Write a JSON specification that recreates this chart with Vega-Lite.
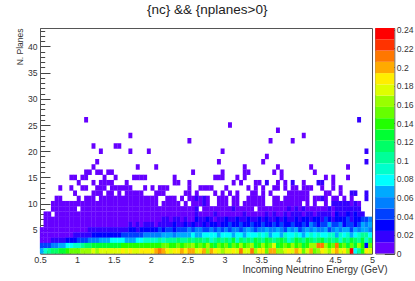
{"$schema":"https://vega.github.io/schema/vega-lite/v6.json","padding":{"left":14,"top":2,"right":0,"bottom":0},"bounds":"flush","spacing":3.3,
"title":{"text":"{nc} && {nplanes>0}","font":"Liberation Sans","fontSize":13.5,"fontWeight":"normal","color":"#222","anchor":"start","offset":9,"dx":132},
"config":{"view":{"stroke":"#555"},"axis":{"labelFont":"Liberation Sans","titleFont":"Liberation Sans","labelColor":"#333","titleColor":"#333","titleFontWeight":"normal","grid":false,"domainColor":"#555","tickColor":"#444","zindex":1,"labelFlush":false}},
"datasets":{"bands":[{"z0":0,"z1":0.0121,"z":0.006},{"z0":0.0121,"z1":0.0242,"z":0.018},{"z0":0.0242,"z1":0.0363,"z":0.03},{"z0":0.0363,"z1":0.0484,"z":0.042},{"z0":0.0484,"z1":0.0605,"z":0.054},{"z0":0.0605,"z1":0.0726,"z":0.067},{"z0":0.0726,"z1":0.0847,"z":0.079},{"z0":0.0847,"z1":0.0968,"z":0.091},{"z0":0.0968,"z1":0.1089,"z":0.103},{"z0":0.1089,"z1":0.121,"z":0.115},{"z0":0.121,"z1":0.1331,"z":0.127},{"z0":0.1331,"z1":0.1452,"z":0.139},{"z0":0.1452,"z1":0.1573,"z":0.151},{"z0":0.1573,"z1":0.1694,"z":0.163},{"z0":0.1694,"z1":0.1815,"z":0.175},{"z0":0.1815,"z1":0.1936,"z":0.188},{"z0":0.1936,"z1":0.2057,"z":0.2},{"z0":0.2057,"z1":0.2178,"z":0.212},{"z0":0.2178,"z1":0.2299,"z":0.224},{"z0":0.2299,"z1":0.242,"z":0.236}],
"cells":[
{"e":1.125,"n":26,"z":0.006},{"e":4.825,"n":26,"z":0.018},{"e":3.075,"n":25,"z":0.006},{"e":3.725,"n":24,"z":0.006},{"e":1.725,"n":23,"z":0.006},{"e":4.075,"n":23,"z":0.006},{"e":2.525,"n":22,"z":0.006},{"e":3.625,"n":22,"z":0.006},{"e":3.925,"n":22,"z":0.006},{"e":1.225,"n":21,"z":0.006},{"e":1.525,"n":21,"z":0.006},{"e":1.575,"n":21,"z":0.006},{"e":1.325,"n":20,"z":0.006},{"e":1.725,"n":20,"z":0.006},{"e":1.975,"n":20,"z":0.006},{"e":2.975,"n":20,"z":0.006},{"e":4.925,"n":20,"z":0.018},{"e":3.575,"n":19,"z":0.006},{"e":1.275,"n":18,"z":0.006},{"e":2.925,"n":18,"z":0.006},{"e":3.525,"n":18,"z":0.006},{"e":4.925,"n":18,"z":0.018},{"e":1.225,"n":17,"z":0.006},{"e":1.825,"n":17,"z":0.006},{"e":2.075,"n":17,"z":0.006},{"e":3.275,"n":17,"z":0.006},{"e":3.725,"n":17,"z":0.006},{"e":4.175,"n":17,"z":0.006},{"e":4.675,"n":17,"z":0.006},{"e":1.125,"n":16,"z":0.006},{"e":1.175,"n":16,"z":0.006},{"e":1.275,"n":16,"z":0.006},{"e":1.325,"n":16,"z":0.006},{"e":1.425,"n":16,"z":0.006},{"e":1.475,"n":16,"z":0.006},{"e":2.575,"n":16,"z":0.006},{"e":2.975,"n":16,"z":0.006},{"e":3.275,"n":16,"z":0.006},{"e":3.325,"n":16,"z":0.006},{"e":3.675,"n":16,"z":0.006},{"e":3.775,"n":16,"z":0.006},{"e":4.225,"n":16,"z":0.006},
{"e":0.925,"n":15,"z":0.006},{"e":0.975,"n":15,"z":0.006},{"e":1.075,"n":15,"z":0.006},{"e":1.125,"n":15,"z":0.006},{"e":1.375,"n":15,"z":0.006},{"e":1.525,"n":15,"z":0.006},{"e":1.775,"n":15,"z":0.006},{"e":1.825,"n":15,"z":0.006},{"e":1.875,"n":15,"z":0.006},{"e":1.925,"n":15,"z":0.006},{"e":2.325,"n":15,"z":0.006},{"e":2.875,"n":15,"z":0.006},{"e":2.925,"n":15,"z":0.006},{"e":2.975,"n":15,"z":0.006},{"e":3.175,"n":15,"z":0.006},{"e":3.275,"n":15,"z":0.006},{"e":3.775,"n":15,"z":0.006},{"e":4.375,"n":15,"z":0.006},{"e":4.475,"n":15,"z":0.006},{"e":4.675,"n":15,"z":0.006},
{"e":1.025,"n":14,"z":0.006},{"e":1.225,"n":14,"z":0.006},{"e":1.325,"n":14,"z":0.006},{"e":1.375,"n":14,"z":0.006},{"e":1.425,"n":14,"z":0.006},{"e":1.475,"n":14,"z":0.006},{"e":1.675,"n":14,"z":0.006},{"e":2.325,"n":14,"z":0.006},{"e":2.375,"n":14,"z":0.006},{"e":2.525,"n":14,"z":0.006},{"e":3.125,"n":14,"z":0.006},{"e":3.225,"n":14,"z":0.006},{"e":3.425,"n":14,"z":0.006},{"e":3.475,"n":14,"z":0.006},{"e":3.575,"n":14,"z":0.018},{"e":3.725,"n":14,"z":0.006},{"e":3.825,"n":14,"z":0.006},{"e":3.925,"n":14,"z":0.018},{"e":4.075,"n":14,"z":0.006},{"e":4.275,"n":14,"z":0.018},{"e":4.325,"n":14,"z":0.018},{"e":4.475,"n":14,"z":0.006},
{"e":0.775,"n":13,"z":0.006},{"e":0.925,"n":13,"z":0.006},{"e":1.075,"n":13,"z":0.006},{"e":1.125,"n":13,"z":0.006},{"e":1.275,"n":13,"z":0.006},{"e":1.325,"n":13,"z":0.006},{"e":1.375,"n":13,"z":0.006},{"e":1.475,"n":13,"z":0.006},{"e":1.525,"n":13,"z":0.006},{"e":1.575,"n":13,"z":0.006},{"e":1.625,"n":13,"z":0.006},{"e":1.675,"n":13,"z":0.006},{"e":1.725,"n":13,"z":0.006},{"e":1.925,"n":13,"z":0.006},{"e":2.025,"n":13,"z":0.006},{"e":2.125,"n":13,"z":0.006},{"e":2.175,"n":13,"z":0.006},{"e":2.225,"n":13,"z":0.006},{"e":2.525,"n":13,"z":0.006},{"e":2.675,"n":13,"z":0.006},{"e":2.725,"n":13,"z":0.006},{"e":2.775,"n":13,"z":0.006},{"e":2.825,"n":13,"z":0.006},{"e":3.025,"n":13,"z":0.006},{"e":3.325,"n":13,"z":0.006},{"e":3.425,"n":13,"z":0.006},{"e":3.525,"n":13,"z":0.006},{"e":3.675,"n":13,"z":0.006},{"e":3.725,"n":13,"z":0.006},{"e":3.825,"n":13,"z":0.006},{"e":3.925,"n":13,"z":0.006},{"e":3.975,"n":13,"z":0.006},{"e":4.075,"n":13,"z":0.006},{"e":4.125,"n":13,"z":0.006},{"e":4.175,"n":13,"z":0.006},{"e":4.325,"n":13,"z":0.006},{"e":4.475,"n":13,"z":0.006},{"e":4.575,"n":13,"z":0.006},
{"e":0.975,"n":12,"z":0.006},{"e":1.225,"n":12,"z":0.006},{"e":1.275,"n":12,"z":0.006},{"e":1.325,"n":12,"z":0.006},{"e":1.425,"n":12,"z":0.006},{"e":1.475,"n":12,"z":0.006},{"e":1.575,"n":12,"z":0.006},{"e":1.675,"n":12,"z":0.006},{"e":1.725,"n":12,"z":0.006},{"e":1.775,"n":12,"z":0.006},{"e":1.825,"n":12,"z":0.006},{"e":1.875,"n":12,"z":0.006},{"e":2.075,"n":12,"z":0.006},{"e":2.125,"n":12,"z":0.006},{"e":2.175,"n":12,"z":0.006},{"e":2.475,"n":12,"z":0.006},{"e":2.525,"n":12,"z":0.006},{"e":2.625,"n":12,"z":0.006},{"e":2.875,"n":12,"z":0.006},{"e":2.975,"n":12,"z":0.006},{"e":3.075,"n":12,"z":0.006},{"e":3.175,"n":12,"z":0.006},{"e":3.375,"n":12,"z":0.006},{"e":3.425,"n":12,"z":0.006},{"e":3.525,"n":12,"z":0.006},{"e":3.625,"n":12,"z":0.006},{"e":3.875,"n":12,"z":0.006},{"e":3.925,"n":12,"z":0.006},{"e":3.975,"n":12,"z":0.006},{"e":4.025,"n":12,"z":0.006},{"e":4.075,"n":12,"z":0.006},{"e":4.125,"n":12,"z":0.006},{"e":4.375,"n":12,"z":0.006},{"e":4.425,"n":12,"z":0.006},{"e":4.575,"n":12,"z":0.006},{"e":4.725,"n":12,"z":0.018},{"e":4.775,"n":12,"z":0.018},{"e":4.925,"n":12,"z":0.018},
{"e":0.725,"n":11,"z":0.006},{"e":0.775,"n":11,"z":0.006},{"e":1.025,"n":11,"z":0.006},{"e":1.125,"n":11,"z":0.006},{"e":1.175,"n":11,"z":0.006},{"e":1.225,"n":11,"z":0.006},{"e":1.325,"n":11,"z":0.006},{"e":1.375,"n":11,"z":0.006},{"e":1.425,"n":11,"z":0.006},{"e":1.475,"n":11,"z":0.006},{"e":1.525,"n":11,"z":0.006},{"e":1.575,"n":11,"z":0.006},{"e":1.625,"n":11,"z":0.006},{"e":1.675,"n":11,"z":0.006},{"e":1.725,"n":11,"z":0.006},{"e":1.775,"n":11,"z":0.006},{"e":1.825,"n":11,"z":0.006},{"e":1.875,"n":11,"z":0.006},{"e":1.925,"n":11,"z":0.006},{"e":1.975,"n":11,"z":0.006},{"e":2.025,"n":11,"z":0.006},{"e":2.075,"n":11,"z":0.006},{"e":2.225,"n":11,"z":0.006},{"e":2.275,"n":11,"z":0.006},{"e":2.325,"n":11,"z":0.006},{"e":2.425,"n":11,"z":0.006},{"e":2.525,"n":11,"z":0.006},{"e":2.575,"n":11,"z":0.006},{"e":2.625,"n":11,"z":0.018},{"e":2.675,"n":11,"z":0.006},{"e":2.725,"n":11,"z":0.018},{"e":2.775,"n":11,"z":0.006},{"e":2.925,"n":11,"z":0.006},{"e":2.975,"n":11,"z":0.006},{"e":3.025,"n":11,"z":0.006},{"e":3.125,"n":11,"z":0.006},{"e":3.175,"n":11,"z":0.006},{"e":3.325,"n":11,"z":0.006},{"e":3.375,"n":11,"z":0.006},{"e":3.425,"n":11,"z":0.006},{"e":3.475,"n":11,"z":0.006},{"e":3.525,"n":11,"z":0.006},{"e":3.675,"n":11,"z":0.006},{"e":3.725,"n":11,"z":0.006},{"e":3.825,"n":11,"z":0.006},{"e":3.875,"n":11,"z":0.006},{"e":3.925,"n":11,"z":0.006},{"e":3.975,"n":11,"z":0.006},{"e":4.025,"n":11,"z":0.006},{"e":4.075,"n":11,"z":0.006},{"e":4.125,"n":11,"z":0.006},{"e":4.225,"n":11,"z":0.006},{"e":4.275,"n":11,"z":0.006},{"e":4.325,"n":11,"z":0.018},{"e":4.375,"n":11,"z":0.006},{"e":4.475,"n":11,"z":0.006},{"e":4.525,"n":11,"z":0.006},{"e":4.625,"n":11,"z":0.006},{"e":4.725,"n":11,"z":0.006},{"e":4.925,"n":11,"z":0.018},
{"e":0.675,"n":10,"z":0.006},{"e":0.725,"n":10,"z":0.006},{"e":0.775,"n":10,"z":0.006},{"e":0.825,"n":10,"z":0.006},{"e":0.875,"n":10,"z":0.006},{"e":0.925,"n":10,"z":0.006},{"e":0.975,"n":10,"z":0.006},{"e":1.025,"n":10,"z":0.006},{"e":1.075,"n":10,"z":0.006},{"e":1.125,"n":10,"z":0.006},{"e":1.175,"n":10,"z":0.006},{"e":1.225,"n":10,"z":0.006},{"e":1.275,"n":10,"z":0.006},{"e":1.325,"n":10,"z":0.006},{"e":1.375,"n":10,"z":0.006},{"e":1.425,"n":10,"z":0.006},{"e":1.475,"n":10,"z":0.006},{"e":1.525,"n":10,"z":0.006},{"e":1.575,"n":10,"z":0.006},{"e":1.625,"n":10,"z":0.006},{"e":1.675,"n":10,"z":0.006},{"e":1.725,"n":10,"z":0.006},{"e":1.775,"n":10,"z":0.006},{"e":1.825,"n":10,"z":0.006},{"e":1.875,"n":10,"z":0.006},{"e":1.925,"n":10,"z":0.006},{"e":1.975,"n":10,"z":0.006},{"e":2.025,"n":10,"z":0.006},{"e":2.075,"n":10,"z":0.006},{"e":2.175,"n":10,"z":0.006},{"e":2.225,"n":10,"z":0.006},{"e":2.275,"n":10,"z":0.006},{"e":2.325,"n":10,"z":0.006},{"e":2.375,"n":10,"z":0.006},{"e":2.475,"n":10,"z":0.006},{"e":2.575,"n":10,"z":0.006},{"e":2.625,"n":10,"z":0.006},{"e":2.675,"n":10,"z":0.006},{"e":2.725,"n":10,"z":0.018},{"e":2.775,"n":10,"z":0.006},{"e":2.925,"n":10,"z":0.006},{"e":2.975,"n":10,"z":0.006},{"e":3.025,"n":10,"z":0.006},{"e":3.125,"n":10,"z":0.006},{"e":3.175,"n":10,"z":0.006},{"e":3.275,"n":10,"z":0.006},{"e":3.325,"n":10,"z":0.006},{"e":3.375,"n":10,"z":0.006},{"e":3.425,"n":10,"z":0.006},{"e":3.475,"n":10,"z":0.006},{"e":3.525,"n":10,"z":0.006},{"e":3.675,"n":10,"z":0.006},{"e":3.725,"n":10,"z":0.006},{"e":3.775,"n":10,"z":0.006},{"e":3.825,"n":10,"z":0.006},{"e":3.875,"n":10,"z":0.006},{"e":3.925,"n":10,"z":0.006},{"e":3.975,"n":10,"z":0.006},{"e":4.025,"n":10,"z":0.006},{"e":4.125,"n":10,"z":0.006},{"e":4.225,"n":10,"z":0.006},{"e":4.375,"n":10,"z":0.006},{"e":4.475,"n":10,"z":0.018},{"e":4.525,"n":10,"z":0.018},{"e":4.575,"n":10,"z":0.018},{"e":4.625,"n":10,"z":0.018},{"e":4.675,"n":10,"z":0.018},{"e":4.725,"n":10,"z":0.006},{"e":4.775,"n":10,"z":0.018},{"e":4.825,"n":10,"z":0.006},
{"e":0.675,"n":9,"z":0.006},{"e":0.725,"n":9,"z":0.006},{"e":0.775,"n":9,"z":0.006},{"e":0.825,"n":9,"z":0.006},{"e":0.875,"n":9,"z":0.006},{"e":0.925,"n":9,"z":0.006},{"e":0.975,"n":9,"z":0.006},{"e":1.075,"n":9,"z":0.006},{"e":1.125,"n":9,"z":0.006},{"e":1.175,"n":9,"z":0.006},{"e":1.225,"n":9,"z":0.006},{"e":1.275,"n":9,"z":0.006},{"e":1.325,"n":9,"z":0.006},{"e":1.375,"n":9,"z":0.006},{"e":1.425,"n":9,"z":0.006},{"e":1.475,"n":9,"z":0.006},{"e":1.525,"n":9,"z":0.006},{"e":1.575,"n":9,"z":0.006},{"e":1.625,"n":9,"z":0.006},{"e":1.675,"n":9,"z":0.006},{"e":1.725,"n":9,"z":0.006},{"e":1.775,"n":9,"z":0.006},{"e":1.825,"n":9,"z":0.006},{"e":1.875,"n":9,"z":0.006},{"e":1.925,"n":9,"z":0.006},{"e":1.975,"n":9,"z":0.006},{"e":2.025,"n":9,"z":0.006},{"e":2.075,"n":9,"z":0.006},{"e":2.125,"n":9,"z":0.006},{"e":2.175,"n":9,"z":0.006},{"e":2.225,"n":9,"z":0.006},{"e":2.275,"n":9,"z":0.006},{"e":2.325,"n":9,"z":0.006},{"e":2.375,"n":9,"z":0.006},{"e":2.425,"n":9,"z":0.006},{"e":2.475,"n":9,"z":0.006},{"e":2.525,"n":9,"z":0.006},{"e":2.575,"n":9,"z":0.006},{"e":2.625,"n":9,"z":0.018},{"e":2.725,"n":9,"z":0.006},{"e":2.775,"n":9,"z":0.006},{"e":2.825,"n":9,"z":0.006},{"e":2.875,"n":9,"z":0.006},{"e":2.925,"n":9,"z":0.006},{"e":2.975,"n":9,"z":0.006},{"e":3.025,"n":9,"z":0.006},{"e":3.075,"n":9,"z":0.006},{"e":3.125,"n":9,"z":0.018},{"e":3.175,"n":9,"z":0.006},{"e":3.225,"n":9,"z":0.006},{"e":3.275,"n":9,"z":0.006},{"e":3.325,"n":9,"z":0.006},{"e":3.375,"n":9,"z":0.006},{"e":3.475,"n":9,"z":0.006},{"e":3.525,"n":9,"z":0.006},{"e":3.575,"n":9,"z":0.006},{"e":3.625,"n":9,"z":0.006},{"e":3.675,"n":9,"z":0.006},{"e":3.725,"n":9,"z":0.006},{"e":3.775,"n":9,"z":0.006},{"e":3.825,"n":9,"z":0.006},{"e":3.875,"n":9,"z":0.018},{"e":3.925,"n":9,"z":0.006},{"e":3.975,"n":9,"z":0.018},{"e":4.025,"n":9,"z":0.006},{"e":4.075,"n":9,"z":0.018},{"e":4.125,"n":9,"z":0.006},{"e":4.175,"n":9,"z":0.006},{"e":4.225,"n":9,"z":0.006},{"e":4.275,"n":9,"z":0.006},{"e":4.325,"n":9,"z":0.006},{"e":4.375,"n":9,"z":0.006},{"e":4.425,"n":9,"z":0.018},{"e":4.475,"n":9,"z":0.006},{"e":4.525,"n":9,"z":0.018},{"e":4.575,"n":9,"z":0.018},{"e":4.625,"n":9,"z":0.018},{"e":4.675,"n":9,"z":0.018},{"e":4.725,"n":9,"z":0.018},{"e":4.775,"n":9,"z":0.018},{"e":4.825,"n":9,"z":0.018},
{"e":0.575,"n":8,"z":0.006},{"e":0.625,"n":8,"z":0.006},{"e":0.725,"n":8,"z":0.006},{"e":0.775,"n":8,"z":0.006},{"e":0.825,"n":8,"z":0.006},{"e":0.875,"n":8,"z":0.006},{"e":0.925,"n":8,"z":0.006},{"e":0.975,"n":8,"z":0.006},{"e":1.025,"n":8,"z":0.006},{"e":1.075,"n":8,"z":0.006},{"e":1.125,"n":8,"z":0.006},{"e":1.175,"n":8,"z":0.006},{"e":1.225,"n":8,"z":0.006},{"e":1.275,"n":8,"z":0.006},{"e":1.325,"n":8,"z":0.006},{"e":1.375,"n":8,"z":0.006},{"e":1.425,"n":8,"z":0.006},{"e":1.475,"n":8,"z":0.006},{"e":1.525,"n":8,"z":0.006},{"e":1.575,"n":8,"z":0.006},{"e":1.625,"n":8,"z":0.006},{"e":1.675,"n":8,"z":0.006},{"e":1.725,"n":8,"z":0.006},{"e":1.775,"n":8,"z":0.006},{"e":1.825,"n":8,"z":0.006},{"e":1.875,"n":8,"z":0.006},{"e":1.925,"n":8,"z":0.006},{"e":1.975,"n":8,"z":0.006},{"e":2.025,"n":8,"z":0.006},{"e":2.075,"n":8,"z":0.006},{"e":2.125,"n":8,"z":0.006},{"e":2.175,"n":8,"z":0.006},{"e":2.225,"n":8,"z":0.006},{"e":2.275,"n":8,"z":0.006},{"e":2.325,"n":8,"z":0.006},{"e":2.375,"n":8,"z":0.006},{"e":2.425,"n":8,"z":0.006},{"e":2.475,"n":8,"z":0.006},{"e":2.525,"n":8,"z":0.006},{"e":2.575,"n":8,"z":0.006},{"e":2.625,"n":8,"z":0.018},{"e":2.675,"n":8,"z":0.006},{"e":2.725,"n":8,"z":0.006},{"e":2.775,"n":8,"z":0.006},{"e":2.825,"n":8,"z":0.006},{"e":2.875,"n":8,"z":0.018},{"e":2.925,"n":8,"z":0.006},{"e":2.975,"n":8,"z":0.006},{"e":3.025,"n":8,"z":0.006},{"e":3.075,"n":8,"z":0.006},{"e":3.125,"n":8,"z":0.006},{"e":3.175,"n":8,"z":0.006},{"e":3.225,"n":8,"z":0.006},{"e":3.275,"n":8,"z":0.018},{"e":3.325,"n":8,"z":0.006},{"e":3.375,"n":8,"z":0.006},{"e":3.425,"n":8,"z":0.006},{"e":3.475,"n":8,"z":0.006},{"e":3.525,"n":8,"z":0.006},{"e":3.575,"n":8,"z":0.018},{"e":3.625,"n":8,"z":0.006},{"e":3.675,"n":8,"z":0.018},{"e":3.725,"n":8,"z":0.006},{"e":3.775,"n":8,"z":0.006},{"e":3.825,"n":8,"z":0.018},{"e":3.875,"n":8,"z":0.006},{"e":3.925,"n":8,"z":0.018},{"e":3.975,"n":8,"z":0.018},{"e":4.025,"n":8,"z":0.018},{"e":4.075,"n":8,"z":0.006},{"e":4.125,"n":8,"z":0.018},{"e":4.175,"n":8,"z":0.018},{"e":4.225,"n":8,"z":0.006},{"e":4.275,"n":8,"z":0.018},{"e":4.325,"n":8,"z":0.018},{"e":4.375,"n":8,"z":0.018},{"e":4.425,"n":8,"z":0.018},{"e":4.475,"n":8,"z":0.006},{"e":4.525,"n":8,"z":0.03},{"e":4.575,"n":8,"z":0.018},{"e":4.625,"n":8,"z":0.018},{"e":4.675,"n":8,"z":0.03},{"e":4.725,"n":8,"z":0.018},{"e":4.775,"n":8,"z":0.03},{"e":4.825,"n":8,"z":0.018},{"e":4.875,"n":8,"z":0.018},
{"e":0.575,"n":7,"z":0.006},{"e":0.625,"n":7,"z":0.006},{"e":0.675,"n":7,"z":0.006},{"e":0.725,"n":7,"z":0.006},{"e":0.775,"n":7,"z":0.006},{"e":0.825,"n":7,"z":0.006},{"e":0.875,"n":7,"z":0.006},{"e":0.925,"n":7,"z":0.006},{"e":0.975,"n":7,"z":0.006},{"e":1.025,"n":7,"z":0.006},{"e":1.075,"n":7,"z":0.006},{"e":1.125,"n":7,"z":0.006},{"e":1.175,"n":7,"z":0.006},{"e":1.225,"n":7,"z":0.006},{"e":1.275,"n":7,"z":0.006},{"e":1.325,"n":7,"z":0.006},{"e":1.375,"n":7,"z":0.006},{"e":1.425,"n":7,"z":0.006},{"e":1.475,"n":7,"z":0.006},{"e":1.525,"n":7,"z":0.006},{"e":1.575,"n":7,"z":0.006},{"e":1.625,"n":7,"z":0.006},{"e":1.675,"n":7,"z":0.006},{"e":1.725,"n":7,"z":0.006},{"e":1.775,"n":7,"z":0.006},{"e":1.825,"n":7,"z":0.006},{"e":1.875,"n":7,"z":0.006},{"e":1.925,"n":7,"z":0.006},{"e":1.975,"n":7,"z":0.006},{"e":2.025,"n":7,"z":0.006},{"e":2.075,"n":7,"z":0.006},{"e":2.125,"n":7,"z":0.006},{"e":2.175,"n":7,"z":0.018},{"e":2.225,"n":7,"z":0.018},{"e":2.275,"n":7,"z":0.006},{"e":2.325,"n":7,"z":0.018},{"e":2.375,"n":7,"z":0.018},{"e":2.425,"n":7,"z":0.006},{"e":2.475,"n":7,"z":0.018},{"e":2.525,"n":7,"z":0.006},{"e":2.575,"n":7,"z":0.006},{"e":2.625,"n":7,"z":0.03},{"e":2.675,"n":7,"z":0.018},{"e":2.725,"n":7,"z":0.018},{"e":2.775,"n":7,"z":0.03},{"e":2.825,"n":7,"z":0.018},{"e":2.875,"n":7,"z":0.006},{"e":2.925,"n":7,"z":0.018},{"e":2.975,"n":7,"z":0.018},{"e":3.025,"n":7,"z":0.03},{"e":3.075,"n":7,"z":0.018},{"e":3.125,"n":7,"z":0.018},{"e":3.175,"n":7,"z":0.03},{"e":3.225,"n":7,"z":0.018},{"e":3.275,"n":7,"z":0.018},{"e":3.325,"n":7,"z":0.03},{"e":3.375,"n":7,"z":0.018},{"e":3.425,"n":7,"z":0.018},{"e":3.475,"n":7,"z":0.03},{"e":3.525,"n":7,"z":0.018},{"e":3.575,"n":7,"z":0.03},{"e":3.625,"n":7,"z":0.018},{"e":3.675,"n":7,"z":0.018},{"e":3.725,"n":7,"z":0.03},{"e":3.775,"n":7,"z":0.018},{"e":3.825,"n":7,"z":0.03},{"e":3.875,"n":7,"z":0.018},{"e":3.925,"n":7,"z":0.018},{"e":3.975,"n":7,"z":0.03},{"e":4.025,"n":7,"z":0.018},{"e":4.075,"n":7,"z":0.03},{"e":4.125,"n":7,"z":0.03},{"e":4.175,"n":7,"z":0.018},{"e":4.225,"n":7,"z":0.03},{"e":4.275,"n":7,"z":0.03},{"e":4.325,"n":7,"z":0.018},{"e":4.375,"n":7,"z":0.042},{"e":4.425,"n":7,"z":0.03},{"e":4.475,"n":7,"z":0.018},{"e":4.525,"n":7,"z":0.03},{"e":4.575,"n":7,"z":0.03},{"e":4.625,"n":7,"z":0.03},{"e":4.675,"n":7,"z":0.042},{"e":4.725,"n":7,"z":0.018},{"e":4.775,"n":7,"z":0.03},{"e":4.825,"n":7,"z":0.03},{"e":4.875,"n":7,"z":0.042},{"e":4.925,"n":7,"z":0.042},{"e":4.975,"n":7,"z":0.054},
{"e":0.575,"n":6,"z":0.006},{"e":0.625,"n":6,"z":0.006},{"e":0.675,"n":6,"z":0.006},{"e":0.725,"n":6,"z":0.006},{"e":0.775,"n":6,"z":0.006},{"e":0.825,"n":6,"z":0.006},{"e":0.875,"n":6,"z":0.006},{"e":0.925,"n":6,"z":0.006},{"e":0.975,"n":6,"z":0.006},{"e":1.025,"n":6,"z":0.006},{"e":1.075,"n":6,"z":0.006},{"e":1.125,"n":6,"z":0.006},{"e":1.175,"n":6,"z":0.006},{"e":1.225,"n":6,"z":0.006},{"e":1.275,"n":6,"z":0.006},{"e":1.325,"n":6,"z":0.006},{"e":1.375,"n":6,"z":0.006},{"e":1.425,"n":6,"z":0.006},{"e":1.475,"n":6,"z":0.006},{"e":1.525,"n":6,"z":0.006},{"e":1.575,"n":6,"z":0.006},{"e":1.625,"n":6,"z":0.006},{"e":1.675,"n":6,"z":0.006},{"e":1.725,"n":6,"z":0.018},{"e":1.775,"n":6,"z":0.006},{"e":1.825,"n":6,"z":0.018},{"e":1.875,"n":6,"z":0.006},{"e":1.925,"n":6,"z":0.018},{"e":1.975,"n":6,"z":0.018},{"e":2.025,"n":6,"z":0.018},{"e":2.075,"n":6,"z":0.006},{"e":2.125,"n":6,"z":0.018},{"e":2.175,"n":6,"z":0.018},{"e":2.225,"n":6,"z":0.018},{"e":2.275,"n":6,"z":0.018},{"e":2.325,"n":6,"z":0.03},{"e":2.375,"n":6,"z":0.018},{"e":2.425,"n":6,"z":0.018},{"e":2.475,"n":6,"z":0.03},{"e":2.525,"n":6,"z":0.018},{"e":2.575,"n":6,"z":0.03},{"e":2.625,"n":6,"z":0.018},{"e":2.675,"n":6,"z":0.018},{"e":2.725,"n":6,"z":0.03},{"e":2.775,"n":6,"z":0.018},{"e":2.825,"n":6,"z":0.03},{"e":2.875,"n":6,"z":0.03},{"e":2.925,"n":6,"z":0.018},{"e":2.975,"n":6,"z":0.03},{"e":3.025,"n":6,"z":0.03},{"e":3.075,"n":6,"z":0.042},{"e":3.125,"n":6,"z":0.03},{"e":3.175,"n":6,"z":0.03},{"e":3.225,"n":6,"z":0.042},{"e":3.275,"n":6,"z":0.03},{"e":3.325,"n":6,"z":0.03},{"e":3.375,"n":6,"z":0.042},{"e":3.425,"n":6,"z":0.03},{"e":3.475,"n":6,"z":0.03},{"e":3.525,"n":6,"z":0.042},{"e":3.575,"n":6,"z":0.03},{"e":3.625,"n":6,"z":0.03},{"e":3.675,"n":6,"z":0.042},{"e":3.725,"n":6,"z":0.03},{"e":3.775,"n":6,"z":0.042},{"e":3.825,"n":6,"z":0.03},{"e":3.875,"n":6,"z":0.03},{"e":3.925,"n":6,"z":0.042},{"e":3.975,"n":6,"z":0.03},{"e":4.025,"n":6,"z":0.03},{"e":4.075,"n":6,"z":0.042},{"e":4.125,"n":6,"z":0.03},{"e":4.175,"n":6,"z":0.054},{"e":4.225,"n":6,"z":0.042},{"e":4.275,"n":6,"z":0.03},{"e":4.325,"n":6,"z":0.042},{"e":4.375,"n":6,"z":0.042},{"e":4.425,"n":6,"z":0.067},{"e":4.475,"n":6,"z":0.042},{"e":4.525,"n":6,"z":0.042},{"e":4.575,"n":6,"z":0.054},{"e":4.625,"n":6,"z":0.03},{"e":4.675,"n":6,"z":0.042},{"e":4.725,"n":6,"z":0.042},{"e":4.775,"n":6,"z":0.03},{"e":4.825,"n":6,"z":0.042},{"e":4.875,"n":6,"z":0.067},{"e":4.925,"n":6,"z":0.054},{"e":4.975,"n":6,"z":0.067},
{"e":0.525,"n":5,"z":0.006},{"e":0.575,"n":5,"z":0.006},{"e":0.625,"n":5,"z":0.006},{"e":0.675,"n":5,"z":0.006},{"e":0.725,"n":5,"z":0.006},{"e":0.775,"n":5,"z":0.006},{"e":0.825,"n":5,"z":0.006},{"e":0.875,"n":5,"z":0.006},{"e":0.925,"n":5,"z":0.006},{"e":0.975,"n":5,"z":0.006},{"e":1.025,"n":5,"z":0.006},{"e":1.075,"n":5,"z":0.006},{"e":1.125,"n":5,"z":0.006},{"e":1.175,"n":5,"z":0.018},{"e":1.225,"n":5,"z":0.018},{"e":1.275,"n":5,"z":0.018},{"e":1.325,"n":5,"z":0.018},{"e":1.375,"n":5,"z":0.018},{"e":1.425,"n":5,"z":0.018},{"e":1.475,"n":5,"z":0.018},{"e":1.525,"n":5,"z":0.018},{"e":1.575,"n":5,"z":0.018},{"e":1.625,"n":5,"z":0.018},{"e":1.675,"n":5,"z":0.018},{"e":1.725,"n":5,"z":0.03},{"e":1.775,"n":5,"z":0.03},{"e":1.825,"n":5,"z":0.018},{"e":1.875,"n":5,"z":0.03},{"e":1.925,"n":5,"z":0.03},{"e":1.975,"n":5,"z":0.03},{"e":2.025,"n":5,"z":0.03},{"e":2.075,"n":5,"z":0.03},{"e":2.125,"n":5,"z":0.042},{"e":2.175,"n":5,"z":0.03},{"e":2.225,"n":5,"z":0.042},{"e":2.275,"n":5,"z":0.042},{"e":2.325,"n":5,"z":0.03},{"e":2.375,"n":5,"z":0.042},{"e":2.425,"n":5,"z":0.042},{"e":2.475,"n":5,"z":0.042},{"e":2.525,"n":5,"z":0.054},{"e":2.575,"n":5,"z":0.042},{"e":2.625,"n":5,"z":0.054},{"e":2.675,"n":5,"z":0.054},{"e":2.725,"n":5,"z":0.042},{"e":2.775,"n":5,"z":0.042},{"e":2.825,"n":5,"z":0.054},{"e":2.875,"n":5,"z":0.042},{"e":2.925,"n":5,"z":0.054},{"e":2.975,"n":5,"z":0.042},{"e":3.025,"n":5,"z":0.054},{"e":3.075,"n":5,"z":0.042},{"e":3.125,"n":5,"z":0.054},{"e":3.175,"n":5,"z":0.054},{"e":3.225,"n":5,"z":0.042},{"e":3.275,"n":5,"z":0.054},{"e":3.325,"n":5,"z":0.067},{"e":3.375,"n":5,"z":0.054},{"e":3.425,"n":5,"z":0.042},{"e":3.475,"n":5,"z":0.054},{"e":3.525,"n":5,"z":0.054},{"e":3.575,"n":5,"z":0.067},{"e":3.625,"n":5,"z":0.054},{"e":3.675,"n":5,"z":0.054},{"e":3.725,"n":5,"z":0.067},{"e":3.775,"n":5,"z":0.054},{"e":3.825,"n":5,"z":0.042},{"e":3.875,"n":5,"z":0.067},{"e":3.925,"n":5,"z":0.054},{"e":3.975,"n":5,"z":0.067},{"e":4.025,"n":5,"z":0.042},{"e":4.075,"n":5,"z":0.054},{"e":4.125,"n":5,"z":0.067},{"e":4.175,"n":5,"z":0.054},{"e":4.225,"n":5,"z":0.067},{"e":4.275,"n":5,"z":0.054},{"e":4.325,"n":5,"z":0.054},{"e":4.375,"n":5,"z":0.067},{"e":4.425,"n":5,"z":0.042},{"e":4.475,"n":5,"z":0.054},{"e":4.525,"n":5,"z":0.067},{"e":4.575,"n":5,"z":0.054},{"e":4.625,"n":5,"z":0.067},{"e":4.675,"n":5,"z":0.067},{"e":4.725,"n":5,"z":0.042},{"e":4.775,"n":5,"z":0.067},{"e":4.825,"n":5,"z":0.054},{"e":4.875,"n":5,"z":0.067},{"e":4.925,"n":5,"z":0.067},{"e":4.975,"n":5,"z":0.054},
{"e":0.525,"n":4,"z":0.006},{"e":0.575,"n":4,"z":0.006},{"e":0.625,"n":4,"z":0.006},{"e":0.675,"n":4,"z":0.006},{"e":0.725,"n":4,"z":0.006},{"e":0.775,"n":4,"z":0.006},{"e":0.825,"n":4,"z":0.006},{"e":0.875,"n":4,"z":0.006},{"e":0.925,"n":4,"z":0.006},{"e":0.975,"n":4,"z":0.018},{"e":1.025,"n":4,"z":0.018},{"e":1.075,"n":4,"z":0.018},{"e":1.125,"n":4,"z":0.018},{"e":1.175,"n":4,"z":0.018},{"e":1.225,"n":4,"z":0.03},{"e":1.275,"n":4,"z":0.03},{"e":1.325,"n":4,"z":0.03},{"e":1.375,"n":4,"z":0.03},{"e":1.425,"n":4,"z":0.03},{"e":1.475,"n":4,"z":0.03},{"e":1.525,"n":4,"z":0.03},{"e":1.575,"n":4,"z":0.03},{"e":1.625,"n":4,"z":0.042},{"e":1.675,"n":4,"z":0.042},{"e":1.725,"n":4,"z":0.042},{"e":1.775,"n":4,"z":0.042},{"e":1.825,"n":4,"z":0.042},{"e":1.875,"n":4,"z":0.042},{"e":1.925,"n":4,"z":0.054},{"e":1.975,"n":4,"z":0.054},{"e":2.025,"n":4,"z":0.054},{"e":2.075,"n":4,"z":0.054},{"e":2.125,"n":4,"z":0.054},{"e":2.175,"n":4,"z":0.067},{"e":2.225,"n":4,"z":0.067},{"e":2.275,"n":4,"z":0.067},{"e":2.325,"n":4,"z":0.054},{"e":2.375,"n":4,"z":0.067},{"e":2.425,"n":4,"z":0.067},{"e":2.475,"n":4,"z":0.067},{"e":2.525,"n":4,"z":0.067},{"e":2.575,"n":4,"z":0.079},{"e":2.625,"n":4,"z":0.067},{"e":2.675,"n":4,"z":0.067},{"e":2.725,"n":4,"z":0.079},{"e":2.775,"n":4,"z":0.079},{"e":2.825,"n":4,"z":0.079},{"e":2.875,"n":4,"z":0.079},{"e":2.925,"n":4,"z":0.067},{"e":2.975,"n":4,"z":0.079},{"e":3.025,"n":4,"z":0.079},{"e":3.075,"n":4,"z":0.079},{"e":3.125,"n":4,"z":0.067},{"e":3.175,"n":4,"z":0.079},{"e":3.225,"n":4,"z":0.079},{"e":3.275,"n":4,"z":0.067},{"e":3.325,"n":4,"z":0.079},{"e":3.375,"n":4,"z":0.079},{"e":3.425,"n":4,"z":0.079},{"e":3.475,"n":4,"z":0.091},{"e":3.525,"n":4,"z":0.079},{"e":3.575,"n":4,"z":0.091},{"e":3.625,"n":4,"z":0.067},{"e":3.675,"n":4,"z":0.079},{"e":3.725,"n":4,"z":0.079},{"e":3.775,"n":4,"z":0.067},{"e":3.825,"n":4,"z":0.091},{"e":3.875,"n":4,"z":0.079},{"e":3.925,"n":4,"z":0.079},{"e":3.975,"n":4,"z":0.091},{"e":4.025,"n":4,"z":0.079},{"e":4.075,"n":4,"z":0.067},{"e":4.125,"n":4,"z":0.079},{"e":4.175,"n":4,"z":0.091},{"e":4.225,"n":4,"z":0.079},{"e":4.275,"n":4,"z":0.091},{"e":4.325,"n":4,"z":0.079},{"e":4.375,"n":4,"z":0.079},{"e":4.425,"n":4,"z":0.091},{"e":4.475,"n":4,"z":0.091},{"e":4.525,"n":4,"z":0.067},{"e":4.575,"n":4,"z":0.091},{"e":4.625,"n":4,"z":0.079},{"e":4.675,"n":4,"z":0.091},{"e":4.725,"n":4,"z":0.067},{"e":4.775,"n":4,"z":0.079},{"e":4.825,"n":4,"z":0.091},{"e":4.875,"n":4,"z":0.103},{"e":4.925,"n":4,"z":0.103},{"e":4.975,"n":4,"z":0.079},
{"e":0.525,"n":3,"z":0.006},{"e":0.575,"n":3,"z":0.006},{"e":0.625,"n":3,"z":0.006},{"e":0.675,"n":3,"z":0.018},{"e":0.725,"n":3,"z":0.018},{"e":0.775,"n":3,"z":0.018},{"e":0.825,"n":3,"z":0.018},{"e":0.875,"n":3,"z":0.03},{"e":0.925,"n":3,"z":0.03},{"e":0.975,"n":3,"z":0.03},{"e":1.025,"n":3,"z":0.042},{"e":1.075,"n":3,"z":0.042},{"e":1.125,"n":3,"z":0.042},{"e":1.175,"n":3,"z":0.054},{"e":1.225,"n":3,"z":0.054},{"e":1.275,"n":3,"z":0.054},{"e":1.325,"n":3,"z":0.067},{"e":1.375,"n":3,"z":0.067},{"e":1.425,"n":3,"z":0.067},{"e":1.475,"n":3,"z":0.079},{"e":1.525,"n":3,"z":0.079},{"e":1.575,"n":3,"z":0.079},{"e":1.625,"n":3,"z":0.079},{"e":1.675,"n":3,"z":0.067},{"e":1.725,"n":3,"z":0.067},{"e":1.775,"n":3,"z":0.067},{"e":1.825,"n":3,"z":0.079},{"e":1.875,"n":3,"z":0.079},{"e":1.925,"n":3,"z":0.091},{"e":1.975,"n":3,"z":0.091},{"e":2.025,"n":3,"z":0.091},{"e":2.075,"n":3,"z":0.091},{"e":2.125,"n":3,"z":0.103},{"e":2.175,"n":3,"z":0.091},{"e":2.225,"n":3,"z":0.103},{"e":2.275,"n":3,"z":0.103},{"e":2.325,"n":3,"z":0.103},{"e":2.375,"n":3,"z":0.115},{"e":2.425,"n":3,"z":0.103},{"e":2.475,"n":3,"z":0.103},{"e":2.525,"n":3,"z":0.115},{"e":2.575,"n":3,"z":0.103},{"e":2.625,"n":3,"z":0.115},{"e":2.675,"n":3,"z":0.115},{"e":2.725,"n":3,"z":0.103},{"e":2.775,"n":3,"z":0.115},{"e":2.825,"n":3,"z":0.091},{"e":2.875,"n":3,"z":0.103},{"e":2.925,"n":3,"z":0.115},{"e":2.975,"n":3,"z":0.103},{"e":3.025,"n":3,"z":0.115},{"e":3.075,"n":3,"z":0.103},{"e":3.125,"n":3,"z":0.127},{"e":3.175,"n":3,"z":0.091},{"e":3.225,"n":3,"z":0.115},{"e":3.275,"n":3,"z":0.103},{"e":3.325,"n":3,"z":0.115},{"e":3.375,"n":3,"z":0.103},{"e":3.425,"n":3,"z":0.127},{"e":3.475,"n":3,"z":0.115},{"e":3.525,"n":3,"z":0.103},{"e":3.575,"n":3,"z":0.127},{"e":3.625,"n":3,"z":0.115},{"e":3.675,"n":3,"z":0.103},{"e":3.725,"n":3,"z":0.115},{"e":3.775,"n":3,"z":0.127},{"e":3.825,"n":3,"z":0.115},{"e":3.875,"n":3,"z":0.091},{"e":3.925,"n":3,"z":0.103},{"e":3.975,"n":3,"z":0.127},{"e":4.025,"n":3,"z":0.115},{"e":4.075,"n":3,"z":0.103},{"e":4.125,"n":3,"z":0.127},{"e":4.175,"n":3,"z":0.115},{"e":4.225,"n":3,"z":0.103},{"e":4.275,"n":3,"z":0.115},{"e":4.325,"n":3,"z":0.127},{"e":4.375,"n":3,"z":0.103},{"e":4.425,"n":3,"z":0.115},{"e":4.475,"n":3,"z":0.103},{"e":4.525,"n":3,"z":0.115},{"e":4.575,"n":3,"z":0.091},{"e":4.625,"n":3,"z":0.115},{"e":4.675,"n":3,"z":0.103},{"e":4.725,"n":3,"z":0.127},{"e":4.775,"n":3,"z":0.115},{"e":4.825,"n":3,"z":0.103},{"e":4.875,"n":3,"z":0.127},{"e":4.925,"n":3,"z":0.091},{"e":4.975,"n":3,"z":0.115},
{"e":0.525,"n":2,"z":0.042},{"e":0.575,"n":2,"z":0.042},{"e":0.625,"n":2,"z":0.042},{"e":0.675,"n":2,"z":0.054},{"e":0.725,"n":2,"z":0.054},{"e":0.775,"n":2,"z":0.067},{"e":0.825,"n":2,"z":0.067},{"e":0.875,"n":2,"z":0.079},{"e":0.925,"n":2,"z":0.079},{"e":0.975,"n":2,"z":0.091},{"e":1.025,"n":2,"z":0.091},{"e":1.075,"n":2,"z":0.103},{"e":1.125,"n":2,"z":0.115},{"e":1.175,"n":2,"z":0.115},{"e":1.225,"n":2,"z":0.127},{"e":1.275,"n":2,"z":0.127},{"e":1.325,"n":2,"z":0.127},{"e":1.375,"n":2,"z":0.127},{"e":1.425,"n":2,"z":0.127},{"e":1.475,"n":2,"z":0.127},{"e":1.525,"n":2,"z":0.127},{"e":1.575,"n":2,"z":0.127},{"e":1.625,"n":2,"z":0.139},{"e":1.675,"n":2,"z":0.139},{"e":1.725,"n":2,"z":0.139},{"e":1.775,"n":2,"z":0.139},{"e":1.825,"n":2,"z":0.139},{"e":1.875,"n":2,"z":0.139},{"e":1.925,"n":2,"z":0.139},{"e":1.975,"n":2,"z":0.139},{"e":2.025,"n":2,"z":0.139},{"e":2.075,"n":2,"z":0.139},{"e":2.125,"n":2,"z":0.139},{"e":2.175,"n":2,"z":0.151},{"e":2.225,"n":2,"z":0.151},{"e":2.275,"n":2,"z":0.139},{"e":2.325,"n":2,"z":0.139},{"e":2.375,"n":2,"z":0.151},{"e":2.425,"n":2,"z":0.139},{"e":2.475,"n":2,"z":0.151},{"e":2.525,"n":2,"z":0.151},{"e":2.575,"n":2,"z":0.163},{"e":2.625,"n":2,"z":0.139},{"e":2.675,"n":2,"z":0.151},{"e":2.725,"n":2,"z":0.139},{"e":2.775,"n":2,"z":0.163},{"e":2.825,"n":2,"z":0.139},{"e":2.875,"n":2,"z":0.127},{"e":2.925,"n":2,"z":0.151},{"e":2.975,"n":2,"z":0.139},{"e":3.025,"n":2,"z":0.151},{"e":3.075,"n":2,"z":0.127},{"e":3.125,"n":2,"z":0.151},{"e":3.175,"n":2,"z":0.139},{"e":3.225,"n":2,"z":0.163},{"e":3.275,"n":2,"z":0.139},{"e":3.325,"n":2,"z":0.151},{"e":3.375,"n":2,"z":0.163},{"e":3.425,"n":2,"z":0.127},{"e":3.475,"n":2,"z":0.139},{"e":3.525,"n":2,"z":0.163},{"e":3.575,"n":2,"z":0.139},{"e":3.625,"n":2,"z":0.151},{"e":3.675,"n":2,"z":0.175},{"e":3.725,"n":2,"z":0.127},{"e":3.775,"n":2,"z":0.139},{"e":3.825,"n":2,"z":0.151},{"e":3.875,"n":2,"z":0.139},{"e":3.925,"n":2,"z":0.163},{"e":3.975,"n":2,"z":0.139},{"e":4.025,"n":2,"z":0.151},{"e":4.075,"n":2,"z":0.127},{"e":4.125,"n":2,"z":0.139},{"e":4.175,"n":2,"z":0.163},{"e":4.225,"n":2,"z":0.163},{"e":4.275,"n":2,"z":0.212},{"e":4.325,"n":2,"z":0.212},{"e":4.375,"n":2,"z":0.163},{"e":4.425,"n":2,"z":0.139},{"e":4.475,"n":2,"z":0.151},{"e":4.525,"n":2,"z":0.212},{"e":4.575,"n":2,"z":0.139},{"e":4.625,"n":2,"z":0.151},{"e":4.675,"n":2,"z":0.127},{"e":4.725,"n":2,"z":0.151},{"e":4.775,"n":2,"z":0.127},{"e":4.825,"n":2,"z":0.163},{"e":4.875,"n":2,"z":0.139},{"e":4.925,"n":2,"z":0.03},{"e":4.975,"n":2,"z":0.151},
{"e":0.525,"n":1,"z":0.067},{"e":0.575,"n":1,"z":0.091},{"e":0.625,"n":1,"z":0.103},{"e":0.675,"n":1,"z":0.115},{"e":0.725,"n":1,"z":0.115},{"e":0.775,"n":1,"z":0.127},{"e":0.825,"n":1,"z":0.127},{"e":0.875,"n":1,"z":0.139},{"e":0.925,"n":1,"z":0.151},{"e":0.975,"n":1,"z":0.151},{"e":1.025,"n":1,"z":0.151},{"e":1.075,"n":1,"z":0.163},{"e":1.125,"n":1,"z":0.163},{"e":1.175,"n":1,"z":0.163},{"e":1.225,"n":1,"z":0.175},{"e":1.275,"n":1,"z":0.163},{"e":1.325,"n":1,"z":0.175},{"e":1.375,"n":1,"z":0.175},{"e":1.425,"n":1,"z":0.175},{"e":1.475,"n":1,"z":0.175},{"e":1.525,"n":1,"z":0.175},{"e":1.575,"n":1,"z":0.175},{"e":1.625,"n":1,"z":0.188},{"e":1.675,"n":1,"z":0.175},{"e":1.725,"n":1,"z":0.188},{"e":1.775,"n":1,"z":0.175},{"e":1.825,"n":1,"z":0.175},{"e":1.875,"n":1,"z":0.188},{"e":1.925,"n":1,"z":0.188},{"e":1.975,"n":1,"z":0.188},{"e":2.025,"n":1,"z":0.188},{"e":2.075,"n":1,"z":0.2},{"e":2.125,"n":1,"z":0.212},{"e":2.175,"n":1,"z":0.2},{"e":2.225,"n":1,"z":0.188},{"e":2.275,"n":1,"z":0.175},{"e":2.325,"n":1,"z":0.188},{"e":2.375,"n":1,"z":0.188},{"e":2.425,"n":1,"z":0.2},{"e":2.475,"n":1,"z":0.188},{"e":2.525,"n":1,"z":0.2},{"e":2.575,"n":1,"z":0.2},{"e":2.625,"n":1,"z":0.175},{"e":2.675,"n":1,"z":0.188},{"e":2.725,"n":1,"z":0.2},{"e":2.775,"n":1,"z":0.163},{"e":2.825,"n":1,"z":0.2},{"e":2.875,"n":1,"z":0.188},{"e":2.925,"n":1,"z":0.175},{"e":2.975,"n":1,"z":0.163},{"e":3.025,"n":1,"z":0.175},{"e":3.075,"n":1,"z":0.175},{"e":3.125,"n":1,"z":0.188},{"e":3.175,"n":1,"z":0.175},{"e":3.225,"n":1,"z":0.212},{"e":3.275,"n":1,"z":0.175},{"e":3.325,"n":1,"z":0.175},{"e":3.375,"n":1,"z":0.212},{"e":3.425,"n":1,"z":0.163},{"e":3.475,"n":1,"z":0.188},{"e":3.525,"n":1,"z":0.188},{"e":3.575,"n":1,"z":0.151},{"e":3.625,"n":1,"z":0.2},{"e":3.675,"n":1,"z":0.2},{"e":3.725,"n":1,"z":0.163},{"e":3.775,"n":1,"z":0.163},{"e":3.825,"n":1,"z":0.175},{"e":3.875,"n":1,"z":0.188},{"e":3.925,"n":1,"z":0.175},{"e":3.975,"n":1,"z":0.2},{"e":4.025,"n":1,"z":0.188},{"e":4.075,"n":1,"z":0.151},{"e":4.125,"n":1,"z":0.175},{"e":4.175,"n":1,"z":0.2},{"e":4.225,"n":1,"z":0.151},{"e":4.275,"n":1,"z":0.163},{"e":4.325,"n":1,"z":0.188},{"e":4.375,"n":1,"z":0.175},{"e":4.425,"n":1,"z":0.163},{"e":4.475,"n":1,"z":0.188},{"e":4.525,"n":1,"z":0.2},{"e":4.575,"n":1,"z":0.175},{"e":4.625,"n":1,"z":0.188},{"e":4.675,"n":1,"z":0.163},{"e":4.725,"n":1,"z":0.236},{"e":4.775,"n":1,"z":0.079},{"e":4.825,"n":1,"z":0.103},{"e":4.875,"n":1,"z":0.139},{"e":4.925,"n":1,"z":0.188},{"e":4.975,"n":1,"z":0.175}
]},
"hconcat":[
{"width":332,"height":225.5,"data":{"name":"cells"},
"mark":{"type":"rect","width":3.95,"height":5.5},
"encoding":{
"x":{"field":"e","type":"quantitative","scale":{"domain":[0.5,5],"nice":false,"zero":false},
"axis":{"title":"Incoming Neutrino Energy (GeV)","titleX":347,"titleAlign":"right","titleAnchor":"end","titleFontSize":10,"titlePadding":-3,"labelFontSize":9,"labelPadding":8.5,"labelOverlap":false,"values":[0.5,0.6,0.7,0.8,0.9,1,1.1,1.2,1.3,1.4,1.5,1.6,1.7,1.8,1.9,2,2.1,2.2,2.3,2.4,2.5,2.6,2.7,2.8,2.9,3,3.1,3.2,3.3,3.4,3.5,3.6,3.7,3.8,3.9,4,4.1,4.2,4.3,4.4,4.5,4.6,4.7,4.8,4.9,5],"labelExpr":"round(datum.value*10)%5===0 ? ''+round(datum.value*10)/10 : ''","tickSize":{"condition":{"test":"round(datum.value*10)%5===0","value":-6.5},"value":-3.3}}},
"y":{"field":"n","type":"quantitative","scale":{"domain":[0.5,43.5],"nice":false,"zero":false},
"axis":{"title":"N. Planes","titleAnchor":"end","titleFontSize":8.5,"titlePadding":3,"labelFontSize":8.6,"labelPadding":13,"labelOverlap":false,"values":[1,2,3,4,5,6,7,8,9,10,11,12,13,14,15,16,17,18,19,20,21,22,23,24,25,26,27,28,29,30,31,32,33,34,35,36,37,38,39,40,41,42,43],"labelExpr":"datum.value%5===0 ? ''+datum.value : ''","tickSize":{"condition":{"test":"datum.value%5===0","value":-10},"value":-4.7}}},
"color":{"field":"z","type":"quantitative","legend":null,"scale":{"type":"threshold","domain":[0.0121,0.0242,0.0363,0.0484,0.0605,0.0726,0.0847,0.0968,0.1089,0.121,0.1331,0.1452,0.1573,0.1694,0.1815,0.1936,0.2057,0.2178,0.2299],"range":["#6600ff","#3300ff","#0000ff","#0040ff","#0080ff","#00aaff","#00ffff","#00ffcc","#00ff99","#00ff66","#00ff33","#22ff00","#66ff00","#99ff00","#ddff00","#ffee00","#ffaa00","#ff7700","#ff3300","#ff0000"]}}}},
{"width":19,"height":225.5,"data":{"name":"bands"},
"mark":{"type":"rect"},
"encoding":{
"y":{"field":"z0","type":"quantitative","scale":{"domain":[0,0.242],"nice":false,"zero":false},
"axis":{"title":null,"orient":"right","domain":false,"values":[0,0.02,0.04,0.06,0.08,0.1,0.12,0.14,0.16,0.18,0.2,0.22,0.24],"format":".2~f","labelFontSize":8.6,"labelPadding":12,"tickSize":-10,"labelOverlap":false}},
"y2":{"field":"z1"},
"color":{"field":"z","type":"quantitative","legend":null,"scale":{"type":"threshold","domain":[0.0121,0.0242,0.0363,0.0484,0.0605,0.0726,0.0847,0.0968,0.1089,0.121,0.1331,0.1452,0.1573,0.1694,0.1815,0.1936,0.2057,0.2178,0.2299],"range":["#6600ff","#3300ff","#0000ff","#0040ff","#0080ff","#00aaff","#00ffff","#00ffcc","#00ff99","#00ff66","#00ff33","#22ff00","#66ff00","#99ff00","#ddff00","#ffee00","#ffaa00","#ff7700","#ff3300","#ff0000"]}}}}
]}
